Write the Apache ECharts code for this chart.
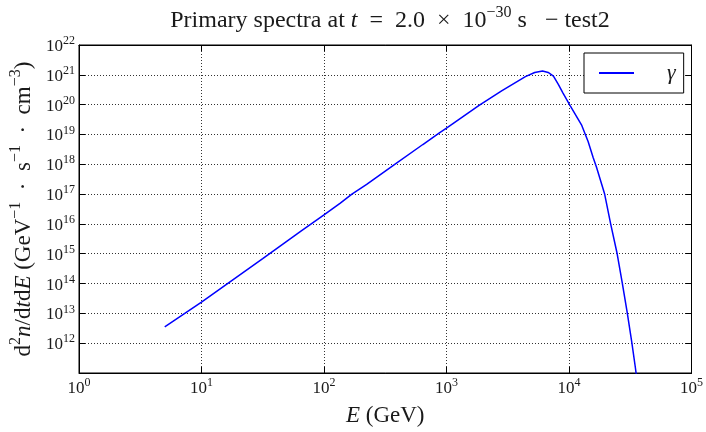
<!DOCTYPE html>
<html lang="en">
<head>
<meta charset="UTF-8">
<title>Primary spectra</title>
<script src="https://cdn.jsdelivr.net/npm/echarts@6/dist/echarts.min.js"></script>
<style>html,body{margin:0;padding:0;background:#fff;}</style>
</head>
<body>
<div id="chart" style="width:706px;height:432px;"></div>
<script>
// photon energy (GeV) and primary spectrum d2n/dtdE
var energy = [5.01, 10, 31.6, 64.4, 100, 135, 169, 223, 378, 641, 875, 1000, 1845, 2818,
  4406, 5248, 6081, 6761, 7464, 8204, 8913, 10186, 12647, 14322, 15740, 16749,
  19543, 21878, 24604, 27164, 29854, 32584, 34834, 36308];
var gamma = [3.5e12, 2.4e13, 6.8e14, 5.6e15, 2.0e16, 4.9e16, 1.0e17, 2.1e17, 1.0e18, 4.6e18,
  1.12e19, 1.62e19, 9.5e19, 2.9e20, 8.7e20, 1.2e21, 1.35e21, 1.2e21, 9.1e20, 4.7e20, 2.5e20,
  9.5e19, 2.1e19, 5.8e18, 1.7e18, 8.1e17, 1.0e17, 1.0e16, 1.1e15, 1.1e14, 1.07e13, 1.05e12,
  1.5e11, 4e10];
var seriesName = 'γ';
var xMin = 1, xMax = 1e5;
var yMin = 1e11, yMax = 1e22;

var serif = 'Liberation Serif';
var ink = '#1a1a1a';

function powLabel(v) {
  var n = Math.log10(v);
  if (Math.abs(n - Math.round(n)) > 1e-6) return '';
  return '{b|10}{s|' + Math.round(n) + '}';
}
function richSet(size, supSize, lift) {
  return {
    a: {fontFamily: serif, fontSize: size, fontWeight: 'normal', color: ink, padding: [lift, 0, 0, 0], verticalAlign: 'bottom'},
    i: {fontFamily: serif, fontSize: size, fontWeight: 'normal', fontStyle: 'italic', color: ink, padding: [lift, 0, 0, 0], verticalAlign: 'bottom'},
    b: {fontFamily: serif, fontSize: size, fontWeight: 'normal', color: ink, padding: [lift, 0, 0, 0], verticalAlign: 'bottom'},
    s: {fontFamily: serif, fontSize: supSize, fontWeight: 'normal', color: ink, verticalAlign: 'top'}
  };
}
var tickRich = richSet(17, 12, 3);
var nameRich = richSet(23, 16, 4);
var titleRich = richSet(24, 16, 4);

var data = energy.map(function (e, i) { return [e, gamma[i]]; });

var grid = {left: 77, right: 12, top: 45, bottom: 43, show: true, borderColor: '#000', borderWidth: 1};
var gridLine = {show: true, lineStyle: {color: '#333', type: [1, 2], width: 1}};
var sp = '\u2002';

var chart = echarts.init(document.getElementById('chart'));
chart.setOption({
  animation: false,
  backgroundColor: '#fff',
  title: {
    text: '{a|Primary spectra at }{i|t}{a|' + sp + '=' + sp + '2.0' + sp + '×' + sp + '10}{s|−30}{a| s' + sp + ' − test2}',
    left: 385, top: 0, textAlign: 'center',
    textStyle: {fontWeight: 'normal', rich: titleRich}
  },
  legend: {
    data: [{name: seriesName, icon: 'rect'}],
    left: 584, top: 53,
    padding: [9, 8, 9, 15],
    borderColor: '#000', borderWidth: 1, backgroundColor: '#fff',
    itemWidth: 35, itemHeight: 2,
    formatter: function (n) { return '{g|' + n + '}'; },
    textStyle: {rich: {g: {fontFamily: serif, fontSize: 22, fontStyle: 'italic', color: ink, padding: [0, 0, 0, 28]}}}
  },
  grid: grid,
  xAxis: [{
    type: 'log', min: xMin, max: xMax,
    name: '{i|E}{a| (GeV)}', nameLocation: 'middle', nameGap: 27,
    nameTextStyle: {rich: nameRich},
    axisLine: {lineStyle: {color: '#000'}},
    axisTick: {inside: true, length: 6, lineStyle: {color: '#000'}},
    axisLabel: {formatter: powLabel, rich: tickRich, margin: 4},
    splitLine: gridLine
  }, {
    type: 'log', min: xMin, max: xMax, position: 'top',
    axisLine: {lineStyle: {color: '#000'}},
    axisTick: {inside: true, length: 6, lineStyle: {color: '#000'}},
    axisLabel: {show: false}, splitLine: {show: false}
  }],
  yAxis: [{
    type: 'log', min: yMin, max: yMax, interval: 1,
    name: '{a|d}{s|2}{i|n}{a|/d}{i|t}{a|d}{i|E}{a| (GeV}{s|−1}{a|' + sp + '·' + sp + 's}{s|−1}{a|' + sp + '·' + sp + 'cm}{s|−3}{a|)}',
    nameLocation: 'middle', nameGap: 44, nameRotate: 90,
    nameTextStyle: {rich: nameRich},
    axisLine: {lineStyle: {color: '#000'}},
    axisTick: {inside: true, length: 6, lineStyle: {color: '#000'}},
    axisLabel: {formatter: function (v) { return v === yMin ? '' : powLabel(v); }, rich: tickRich, margin: 4},
    splitLine: gridLine
  }, {
    type: 'log', min: yMin, max: yMax, interval: 1, position: 'right',
    axisLine: {lineStyle: {color: '#000'}},
    axisTick: {inside: true, length: 6, lineStyle: {color: '#000'}},
    axisLabel: {show: false}, splitLine: {show: false}
  }],
  series: [{
    name: seriesName,
    type: 'line',
    data: data,
    symbol: 'none',
    smooth: false,
    clip: true,
    lineStyle: {color: '#0000ff', width: 1.5},
    itemStyle: {color: '#0000ff'}
  }]
});
</script>
</body>
</html>
